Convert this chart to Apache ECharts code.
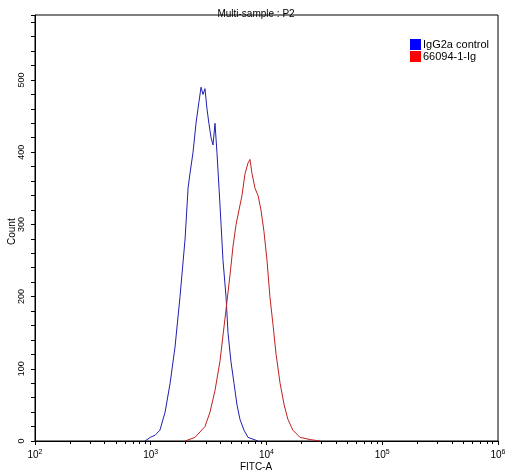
<!DOCTYPE html><html><head><script src="https://cdn.jsdelivr.net/npm/echarts@6/dist/echarts.min.js"></script></head><body style="margin:0;background:#fff"><div id="c" style="width:512px;height:474px"></div><script>
const blueX=[891,990,1090,1200,1330,1470,1620,1790,1980,2100,2180,2320,2460,2610,2720,2830,2940,3060,3180,3320,3450,3590,3730,3890,4050,4210,4470,4650,4930,5240,5560,5900,6390,6920,7500,8450];
const blueY=[0,5,8,15,40,80,130,200,280,350,370,400,440,470,490,480,488,460,440,420,410,440,400,350,300,250,200,150,110,80,50,30,15,5,3,0];
const redX=[1980,2410,2940,3250,3590,3960,4380,4840,5140,5460,5790,6140,6520,6920,7200,7500,7960,8450,8960,9510,10100,10700,11400,12100,13100,14200,15300,16900,19500,23800,29000];
const redY=[0,5,20,40,70,110,170,230,270,300,320,340,370,385,390,370,350,340,320,290,250,200,160,120,80,50,30,15,5,2,0];
const seriesNames=['IgG2a control','66094-1-Ig'];
const zip=(a,b)=>a.map((v,i)=>[v,b[i]]);
const f='Liberation Sans';
const lg=(n,top)=>({left:410,top:top,padding:0,itemWidth:11,itemHeight:11,icon:'rect',textStyle:{fontSize:11,fontFamily:f,color:'#000',padding:[0,0,0,-3]},data:[n]});
const c=echarts.init(document.getElementById('c'));
c.setOption({animation:false,
title:{text:'Multi-sample : P2',left:'center',top:1,textStyle:{fontSize:10,fontWeight:'normal',fontFamily:f,color:'#000'}},
legend:[lg(seriesNames[0],35),lg(seriesNames[1],47)],
graphic:[{type:'text',left:'center',top:459,style:{text:'FITC-A',font:'10px "Liberation Sans"',fill:'#000'}},
{type:'text',x:4,y:245,rotation:Math.PI/2,style:{text:'Count',font:'10px "Liberation Sans"',fill:'#000'}}],
grid:{left:35,right:14,top:15,bottom:33,containLabel:false,outerBoundsMode:'none',show:true,borderColor:'#000',borderWidth:1},
xAxis:{type:'log',min:100,max:1000000,logBase:10,
axisLine:{lineStyle:{color:'#000'}},axisTick:{length:4,lineStyle:{color:'#000'}},minorTick:{show:true,splitNumber:9,length:3,lineStyle:{color:'#000'}},splitLine:{show:false},
axisLabel:{margin:5,fontFamily:f,color:'#000',formatter:v=>'10{s|'+Math.round(Math.log10(v))+'}',rich:{s:{fontSize:7,verticalAlign:'top',padding:[0,0,6,0]}},fontSize:10}},
yAxis:{type:'value',min:0,max:590,interval:100,
axisLine:{show:true,lineStyle:{color:'#000'}},axisTick:{show:true,length:4,lineStyle:{color:'#000'}},minorTick:{show:true,splitNumber:5,length:4,lineStyle:{color:'#000'}},splitLine:{show:false},
axisLabel:{rotate:90,margin:6,fontSize:9,fontFamily:f,color:'#000',showMaxLabel:false}},
series:[{name:seriesNames[0],type:'line',symbol:'none',data:zip(blueX,blueY),lineStyle:{color:'#1f1fb0',width:1},itemStyle:{color:'#0000ff'}},
{name:seriesNames[1],type:'line',symbol:'none',data:zip(redX,redY),lineStyle:{color:'#c02020',width:1},itemStyle:{color:'#ff0000'}}]});
</script></body></html>
